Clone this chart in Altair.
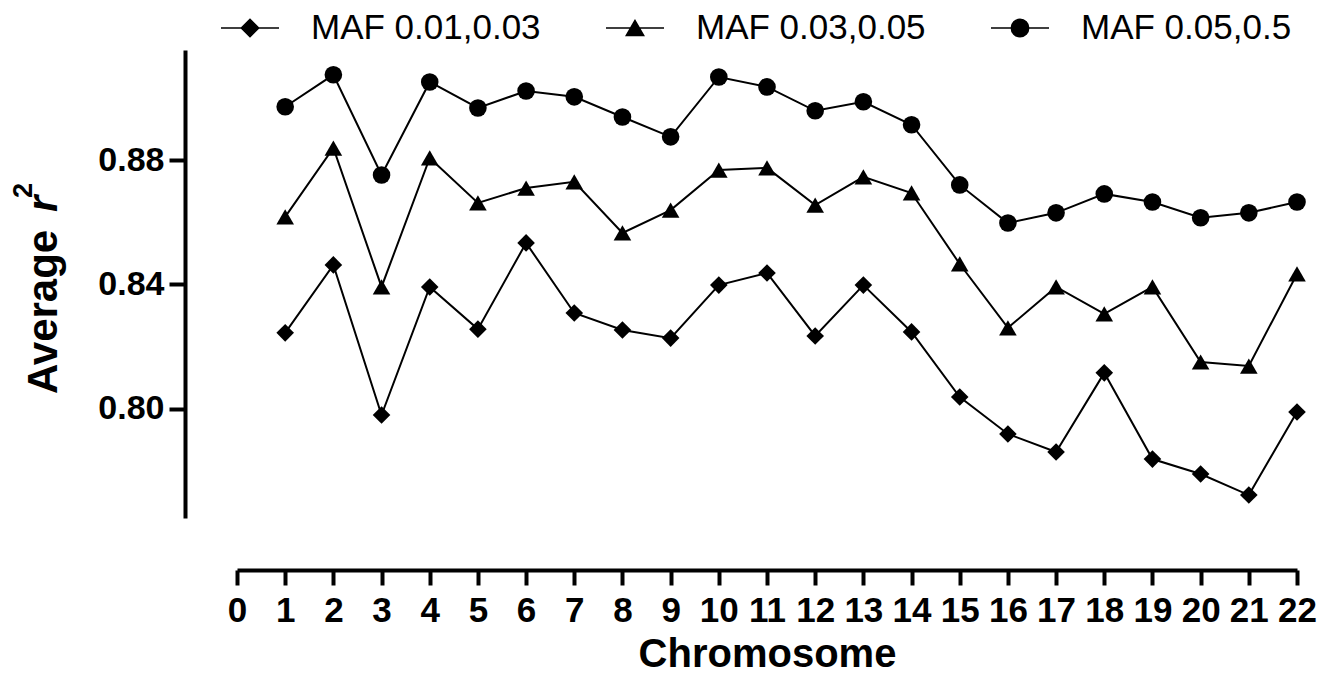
import altair as alt
import pandas as pd

chromosomes = list(range(1, 23))
series_names = ["MAF 0.01,0.03", "MAF 0.03,0.05", "MAF 0.05,0.5"]

maf_001_003 = [0.8244, 0.8463, 0.7979, 0.8392, 0.8256, 0.8534, 0.8308, 0.8253,
               0.8227, 0.8398, 0.8437, 0.8234, 0.8398, 0.8247, 0.8037, 0.7918,
               0.7860, 0.8115, 0.7837, 0.7789, 0.7721, 0.7989]
maf_003_005 = [0.8618, 0.8840, 0.8392, 0.8808, 0.8663, 0.8711, 0.8731, 0.8566,
               0.8640, 0.8769, 0.8776, 0.8656, 0.8747, 0.8695, 0.8466, 0.8260,
               0.8392, 0.8305, 0.8392, 0.8150, 0.8137, 0.8434]
maf_005_05 = [0.8973, 0.9076, 0.8753, 0.9053, 0.8969, 0.9024, 0.9005, 0.8940,
              0.8876, 0.9069, 0.9037, 0.8960, 0.8989, 0.8915, 0.8721, 0.8598,
              0.8631, 0.8692, 0.8666, 0.8615, 0.8631, 0.8666]

x_ticks = list(range(0, 23))
y_ticks = [0.80, 0.84, 0.88]

rows = []
for name, vals in zip(series_names, [maf_001_003, maf_003_005, maf_005_05]):
    for c, v in zip(chromosomes, vals):
        rows.append({"chromosome": c, "r2": v, "series": name})
df = pd.DataFrame(rows)
legend_df = pd.DataFrame({"series": series_names})

FONT = "Liberation Sans"

x_enc = alt.X(
    "chromosome:Q",
    scale=alt.Scale(domain=[0, 22], nice=False, zero=False),
    axis=alt.Axis(
        values=x_ticks, format="d", title="Chromosome", offset=52,
        grid=False, domainWidth=4, domainColor="black", tickWidth=4,
        tickSize=15, tickColor="black", labelFont=FONT, labelFontSize=35,
        labelFontWeight="bold", labelColor="black", labelPadding=8,
        labelFlush=False, labelOverlap=False, titleFont=FONT,
        titleFontSize=40, titleFontWeight="bold", titleColor="black",
        titleY=96, titleBaseline="alphabetic",
    ),
)
y_enc = alt.Y(
    "r2:Q",
    scale=alt.Scale(domain=[0.7647, 0.9156], nice=False, zero=False),
    axis=alt.Axis(
        values=y_ticks, format=".2f", title=None, offset=52, grid=False,
        domainWidth=4, domainColor="black", tickWidth=4, tickSize=16,
        tickColor="black", labelFont=FONT, labelFontSize=34,
        labelFontWeight="bold", labelColor="black", labelPadding=5,
        labelOverlap=False, labelFlush=False,
    ),
)

lines = alt.Chart(df).mark_line(color="black", strokeWidth=2).encode(
    x=x_enc, y=y_enc, detail="series:N"
)
points = alt.Chart(df).mark_point(filled=True, color="black", size=310, opacity=1).encode(
    x=x_enc, y=y_enc,
    shape=alt.Shape("series:N",
                    scale=alt.Scale(domain=series_names,
                                    range=["diamond", "triangle-up", "circle"]),
                    legend=None),
)
data_layer = alt.layer(lines, points)

# legend symbols: line segment with marker (custom SVG paths)
legend_paths = [
    "M-1,0L1,0M-0.3,0L0,-0.3L0.3,0L0,0.3Z",
    "M-1,0L1,0M0,-0.26L-0.3,0.26L0.3,0.26Z",
    "M-1,0L1,0M0.3,0A0.3,0.3 0 1,1 -0.3,0A0.3,0.3 0 1,1 0.3,0Z",
]
leg_x = alt.X("series:N",
              scale=alt.Scale(type="point", domain=series_names, range=[13, 783], padding=0),
              axis=None)
leg_sym = alt.Chart(legend_df).mark_point(
    filled=True, fill="black", stroke="black", strokeWidth=1.5, size=3364, opacity=1
).encode(
    x=leg_x, y=alt.value(-22),
    shape=alt.Shape("series:N",
                    scale=alt.Scale(domain=series_names, range=legend_paths),
                    legend=None),
)
leg_txt = alt.Chart(legend_df).mark_text(
    align="left", baseline="middle", dx=61, font=FONT, fontSize=35, color="black"
).encode(x=leg_x, y=alt.value(-22), text="series:N")
legend_layer = alt.layer(leg_sym, leg_txt)

# y-axis title "Average r²" with italic r
t1 = alt.Chart(pd.DataFrame({"t": ["Average"]})).mark_text(
    angle=270, align="left", baseline="alphabetic", font=FONT, fontSize=42,
    fontWeight="bold", color="black"
).encode(text="t:N", x=alt.value(-180), y=alt.value(344))
t2 = alt.Chart(pd.DataFrame({"t": ["r"]})).mark_text(
    angle=270, align="left", baseline="alphabetic", font=FONT, fontSize=42,
    fontWeight="bold", fontStyle="italic", color="black"
).encode(text="t:N", x=alt.value(-180), y=alt.value(162))
t3 = alt.Chart(pd.DataFrame({"t": ["2"]})).mark_text(
    angle=270, align="left", baseline="alphabetic", font=FONT, fontSize=27,
    fontWeight="bold", color="black"
).encode(text="t:N", x=alt.value(-205), y=alt.value(148))

chart = alt.layer(data_layer, legend_layer, t1, t2, t3).resolve_scale(
    x="independent", shape="independent"
).properties(
    width=1060, height=468,
    padding={"left": 229, "top": 42, "right": 20, "bottom": 156},
    autosize=alt.AutoSizeParams(type="none"),
).configure_view(stroke=None)

chart.save("out.html", embed_options={"renderer": "svg", "actions": False})
